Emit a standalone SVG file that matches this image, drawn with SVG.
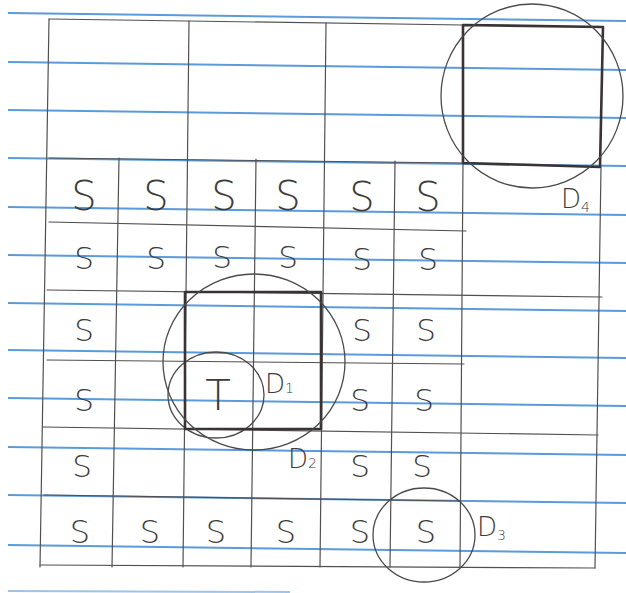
<svg xmlns="http://www.w3.org/2000/svg" width="626" height="593" viewBox="0 0 626 593">
<style>
.blue{stroke:#5b9bdc;stroke-width:2;fill:none}
.g{stroke:#505050;stroke-width:1.2;fill:none;stroke-linecap:round}
.sq{stroke:#3a3334;stroke-width:2.6;fill:none;stroke-linejoin:round}
.circ{stroke:#4a4a4a;stroke-width:1.3;fill:none}
.s{font-family:"DejaVu Sans","Liberation Sans",sans-serif;font-weight:200;fill:#3c3c3c;text-anchor:middle}
.lbl{font-family:"DejaVu Sans","Liberation Sans",sans-serif;font-weight:200;fill:#3c3c3c}
</style>
<rect width="626" height="593" fill="#ffffff"/>
<g id="paper-lines">
<line class="blue" x1="8" y1="13" x2="626" y2="21"/>
<line class="blue" x1="8" y1="62" x2="626" y2="70"/>
<line class="blue" x1="8" y1="110" x2="626" y2="118"/>
<line class="blue" x1="8" y1="158" x2="626" y2="166"/>
<line class="blue" x1="8" y1="207" x2="626" y2="215"/>
<line class="blue" x1="8" y1="255" x2="626" y2="263"/>
<line class="blue" x1="8" y1="303" x2="626" y2="311"/>
<line class="blue" x1="8" y1="350" x2="626" y2="358"/>
<line class="blue" x1="8" y1="398" x2="626" y2="406"/>
<line class="blue" x1="8" y1="447" x2="626" y2="455"/>
<line class="blue" x1="8" y1="495" x2="626" y2="503"/>
<line class="blue" x1="8" y1="545" x2="626" y2="553"/>
<line class="blue" x1="8" y1="591" x2="290" y2="592" stroke-opacity="0.6"/>
</g>
<g id="connectors">
<line class="g" x1="49" y1="19" x2="463" y2="25"/>
<line class="g" x1="49" y1="19" x2="40" y2="567"/>
<line class="g" x1="189" y1="21" x2="183" y2="567"/>
<line class="g" x1="326" y1="23" x2="320" y2="567"/>
<line class="g" x1="119" y1="158" x2="112" y2="567"/>
<line class="g" x1="256" y1="159" x2="251" y2="567"/>
<line class="g" x1="395" y1="161" x2="390" y2="567"/>
<line class="g" x1="463" y1="163" x2="460" y2="567"/>
<line class="g" x1="601" y1="167" x2="595" y2="568"/>
<line class="g" x1="49" y1="158" x2="463" y2="163"/>
<line class="g" x1="49" y1="222" x2="466" y2="231"/>
<line class="g" x1="47" y1="290" x2="602" y2="297"/>
<line class="g" x1="47" y1="360" x2="464" y2="364"/>
<line class="g" x1="43" y1="427" x2="598" y2="435"/>
<line class="g" x1="44" y1="495" x2="460" y2="501"/>
<line class="g" x1="40" y1="565" x2="595" y2="568"/>
</g>
<g id="cells">
<text class="s" font-size="40" x="84" y="210">S</text>
<text class="s" font-size="40" x="156" y="210">S</text>
<text class="s" font-size="40" x="224" y="210">S</text>
<text class="s" font-size="40" x="288" y="210">S</text>
<text class="s" font-size="40" x="362" y="211">S</text>
<text class="s" font-size="40" x="428" y="211">S</text>
<text class="s" font-size="31" x="84" y="269">S</text>
<text class="s" font-size="31" x="156" y="269">S</text>
<text class="s" font-size="31" x="222" y="268">S</text>
<text class="s" font-size="31" x="288" y="268">S</text>
<text class="s" font-size="31" x="362" y="270">S</text>
<text class="s" font-size="31" x="428" y="270">S</text>
<text class="s" font-size="31" x="84" y="341">S</text>
<text class="s" font-size="31" x="362" y="341">S</text>
<text class="s" font-size="31" x="426" y="341">S</text>
<text class="s" font-size="31" x="84" y="411">S</text>
<text class="s" font-size="31" x="360" y="411">S</text>
<text class="s" font-size="31" x="424" y="411">S</text>
<text class="s" font-size="31" x="82" y="477">S</text>
<text class="s" font-size="31" x="360" y="477">S</text>
<text class="s" font-size="31" x="422" y="477">S</text>
<text class="s" font-size="32" x="80" y="543">S</text>
<text class="s" font-size="32" x="150" y="543">S</text>
<text class="s" font-size="32" x="216" y="543">S</text>
<text class="s" font-size="32" x="286" y="543">S</text>
<text class="s" font-size="32" x="360" y="543">S</text>
<text class="s" font-size="32" x="426" y="543">S</text>
<text class="s" font-size="42" x="218" y="410">T</text>
</g>
<g id="D1">
<ellipse class="circ" cx="216" cy="395" rx="48" ry="43"/>
<text class="lbl" font-size="26" x="265" y="393">D<tspan font-size="14" dy="0">1</tspan></text>
</g>
<g id="D2">
<rect class="sq" x="185" y="292" width="136" height="137"/>
<ellipse class="circ" cx="254" cy="362" rx="91" ry="88"/>
<text class="lbl" font-size="26" x="288" y="468">D<tspan font-size="14">2</tspan></text>
</g>
<g id="D3">
<ellipse class="circ" cx="424" cy="535" rx="51" ry="47"/>
<text class="lbl" font-size="26" x="477" y="536">D<tspan font-size="14" dy="4">3</tspan></text>
</g>
<g id="D4">
<path class="sq" d="M463,25 L603,27 L600,167 L463,163 Z"/>
<ellipse class="circ" cx="532" cy="96" rx="91" ry="92"/>
<text class="lbl" font-size="26" x="561" y="208">D<tspan font-size="14" dy="4">4</tspan></text>
</g>
</svg>
